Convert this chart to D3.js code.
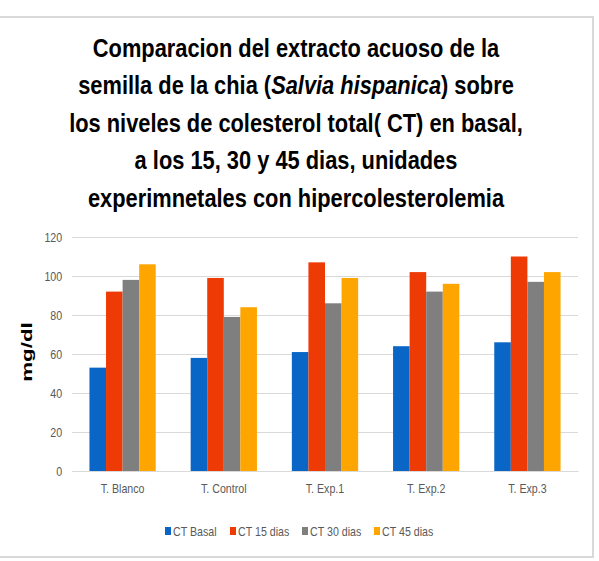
<!DOCTYPE html>
<html>
<head>
<meta charset="utf-8">
<script src="https://cdnjs.cloudflare.com/ajax/libs/d3/7.8.5/d3.min.js"></script>
<style>
  body { margin: 0; background: #fff; }
  svg { display: block; }
</style>
</head>
<body>
<svg id="chart"></svg>
<script>
var w = 599;
var h = 561;

// data
var categories = ["T. Blanco", "T. Control", "T. Exp.1", "T. Exp.2", "T. Exp.3"];
var seriesNames = ["CT Basal", "CT 15 dias", "CT 30 dias", "CT 45 dias"];
var ctBasal = [53, 58, 61, 64, 66];
var ct15 = [92, 99, 107, 102, 110];
var ct30 = [98, 79, 86, 92, 97];
var ct45 = [106, 84, 99, 96, 102];
var yTicks = [0, 20, 40, 60, 80, 100, 120];
var colors = ["#0966C6", "#EE3A05", "#7F7F7F", "#FFA500"];

var seriesValues = [ctBasal, ct15, ct30, ct45];
var narrow = "scale(0.82,1)"; // squeeze the small labels, they look like Calibri

var svg = d3.select("#chart")
    .attr("width", w)
    .attr("height", h);

// chart frame
svg.append("rect")
    .attr("x", -2)
    .attr("y", 17)
    .attr("width", 595)
    .attr("height", 540)
    .style("fill", "#fff")
    .style("stroke", "#d9d9d9")
    .style("stroke-width", 2);

// title
var titleLines = [
    [{t: "Comparacion del extracto acuoso de la"}],
    [{t: "semilla de la chia ("}, {t: "Salvia hispanica", i: true}, {t: ") sobre"}],
    [{t: "los niveles de colesterol total( CT) en basal,"}],
    [{t: "a los 15, 30 y 45 dias, unidades"}],
    [{t: "experimnetales con hipercolesterolemia"}]
];
var title = svg.append("g")
    .attr("transform", "translate(296,0) scale(0.84,1)")
    .append("text")
    .attr("text-anchor", "middle")
    .style("font-family", "'Liberation Sans', Arial, sans-serif")
    .style("font-weight", "bold")
    .style("font-size", "26px")
    .style("fill", "#000");
titleLines.forEach(function(line, li) {
    line.forEach(function(part, pi) {
        var ts = title.append("tspan").text(part.t);
        if (pi === 0) ts.attr("x", 0).attr("y", 57 + li * 37.5);
        if (part.i) ts.style("font-style", "italic");
    });
});

var x0 = d3.scaleBand()
    .domain(categories)
    .range([72, 578])
    .paddingInner(0.345)
    .paddingOuter(0.1725);
var x1 = d3.scaleBand()
    .domain(seriesNames)
    .range([0, x0.bandwidth()]);
var y = d3.scaleLinear()
    .domain([0, 120])
    .range([471, 237]);

// gridlines
var yAxis = d3.axisLeft(y)
    .tickValues(yTicks)
    .tickSize(-(578 - 72))
    .tickPadding(12);
var gy = svg.append("g")
    .attr("transform", "translate(72,0)")
    .call(yAxis);
gy.select(".domain").remove();
gy.selectAll(".tick line")
    .style("stroke", "#d9d9d9")
    .style("stroke-width", 1);
gy.selectAll(".tick text")
    .attr("transform", narrow)
    .style("font-family", "'Liberation Sans', sans-serif")
    .style("font-size", "13px")
    .style("fill", "#595959");

// bars
var groups = svg.append("g").selectAll("g")
    .data(categories)
    .enter().append("g")
    .attr("transform", d => "translate(" + x0(d) + ",0)");
groups.selectAll("rect")
    .data((d, i) => seriesNames.map((s, j) => ({s: s, v: seriesValues[j][i], j: j})))
    .enter().append("rect")
    .attr("x", d => x1(d.s))
    .attr("y", d => y(d.v))
    .attr("width", x1.bandwidth())
    .attr("height", d => y(0) - y(d.v))
    .style("fill", d => colors[d.j]);

// x axis
var xAxis = d3.axisBottom(x0).tickSize(0).tickPadding(13);
var gx = svg.append("g")
    .attr("transform", "translate(0,471)")
    .call(xAxis);
gx.select(".domain")
    .style("stroke", "#d9d9d9");
gx.selectAll(".tick text")
    .attr("transform", narrow)
    .style("font-family", "'Liberation Sans', sans-serif")
    .style("font-size", "13px")
    .style("fill", "#595959");

// y axis title
svg.append("text")
    .attr("transform", "translate(32,352) rotate(-90) scale(1.6,1)")
    .attr("text-anchor", "middle")
    .style("font-family", "'Liberation Sans', Arial, sans-serif")
    .style("font-weight", "bold")
    .style("font-size", "14px")
    .style("fill", "#000")
    .text("mg/dl");

// legend
var legendX = [165, 230, 302, 374];
var legend = svg.append("g").selectAll("g")
    .data(seriesNames)
    .enter().append("g")
    .attr("transform", (d, i) => "translate(" + legendX[i] + ",531)");
legend.append("rect")
    .attr("x", 0)
    .attr("y", -4)
    .attr("width", 6)
    .attr("height", 8)
    .style("fill", (d, i) => colors[i]);
legend.append("text")
    .attr("transform", "translate(8,5) " + narrow)
    .style("font-family", "'Liberation Sans', sans-serif")
    .style("font-size", "13px")
    .style("fill", "#595959")
    .text(d => d);
</script>
</body>
</html>
